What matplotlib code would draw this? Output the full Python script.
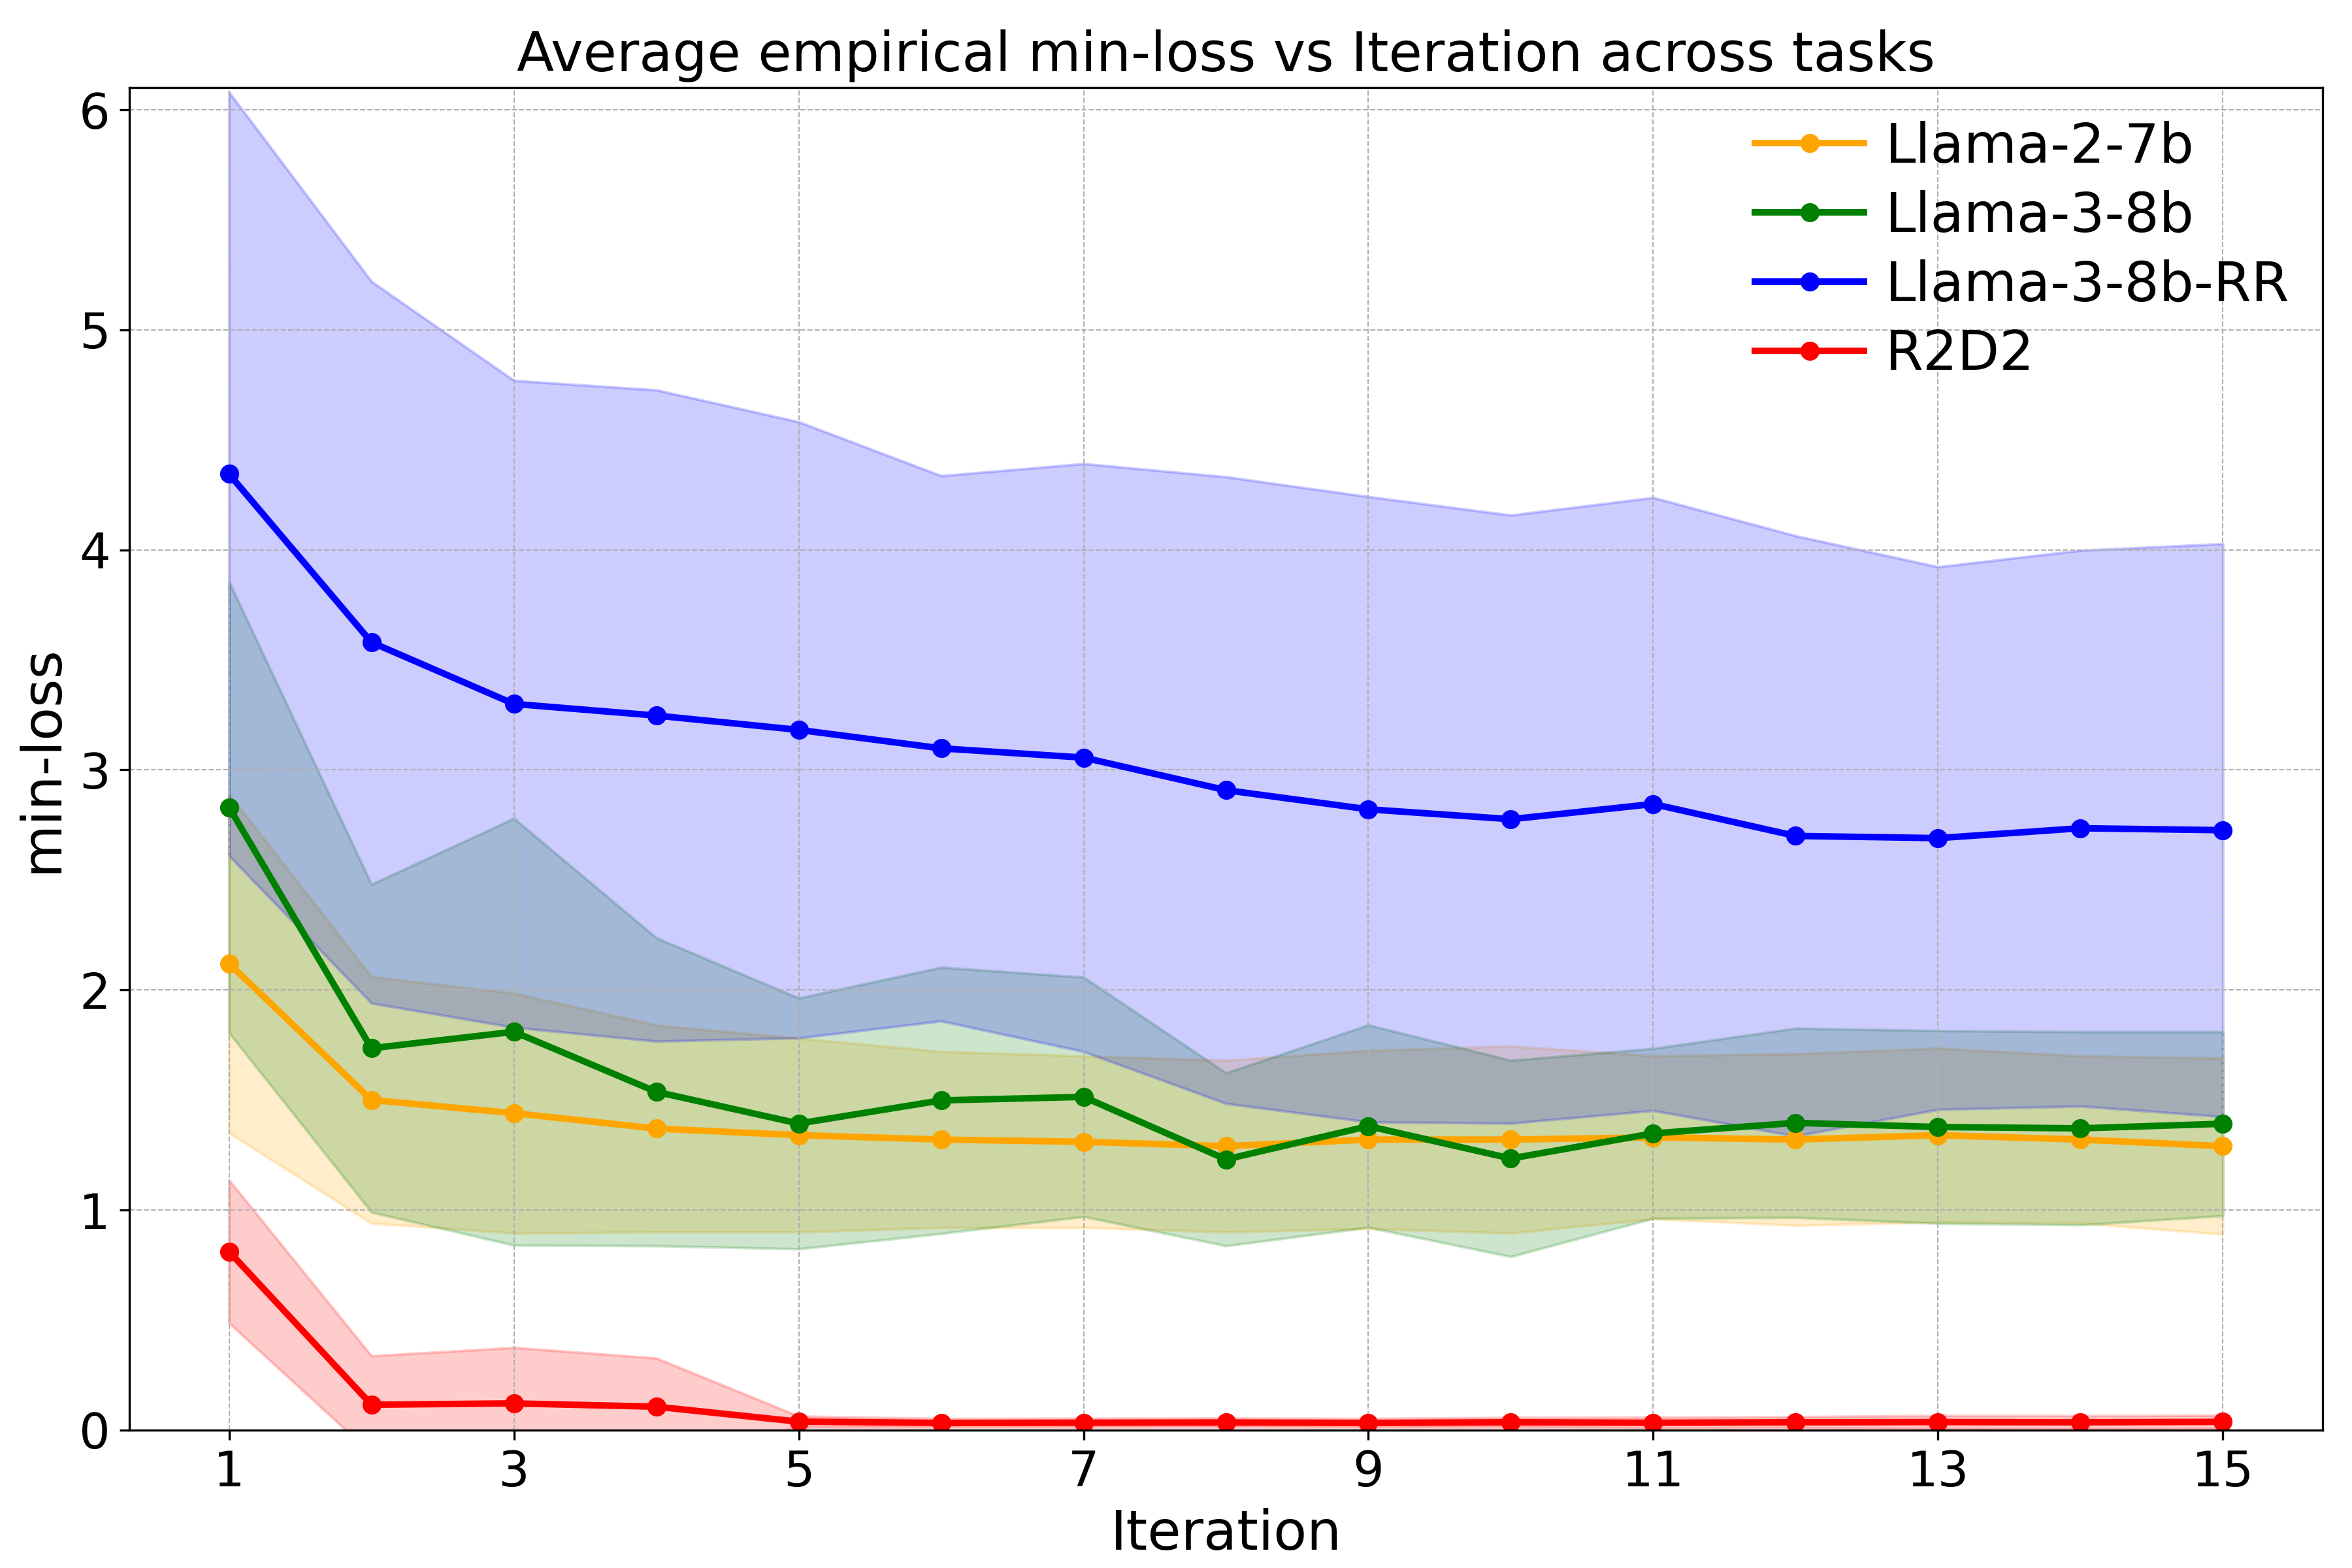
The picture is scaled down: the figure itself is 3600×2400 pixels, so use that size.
import matplotlib
matplotlib.use("Agg")
import matplotlib.pyplot as plt
import numpy as np

iterations = list(range(1, 16))
models = ["Llama-2-7b", "Llama-3-8b", "Llama-3-8b-RR", "R2D2"]
colors = ["orange", "green", "blue", "red"]

llama2_mean = [2.12, 1.50, 1.44, 1.37, 1.34, 1.32, 1.31, 1.29, 1.32, 1.32, 1.33, 1.32, 1.34, 1.32, 1.29]
llama2_std = [0.77, 0.56, 0.545, 0.47, 0.44, 0.40, 0.39, 0.39, 0.405, 0.425, 0.37, 0.39, 0.395, 0.38, 0.40]

llama3_mean = [2.83, 1.735, 1.81, 1.537, 1.393, 1.498, 1.514, 1.23, 1.381, 1.234, 1.348, 1.396, 1.377, 1.371, 1.392]
llama3_std = [1.025, 0.745, 0.97, 0.70, 0.57, 0.605, 0.544, 0.393, 0.46, 0.446, 0.386, 0.43, 0.438, 0.439, 0.418]

llama3rr_mean = [4.345, 3.58, 3.30, 3.247, 3.182, 3.098, 3.056, 2.908, 2.821, 2.776, 2.845, 2.70, 2.69, 2.735, 2.726]
llama3rr_std = [1.735, 1.64, 1.47, 1.48, 1.40, 1.239, 1.336, 1.424, 1.421, 1.382, 1.393, 1.364, 1.233, 1.263, 1.302]

r2d2_mean = [0.811, 0.115, 0.121, 0.106, 0.038, 0.032, 0.033, 0.034, 0.032, 0.035, 0.033, 0.035, 0.036, 0.035, 0.037]
r2d2_std = [0.325, 0.222, 0.254, 0.221, 0.025, 0.02, 0.02, 0.02, 0.02, 0.022, 0.025, 0.025, 0.03, 0.03, 0.03]

means = [llama2_mean, llama3_mean, llama3rr_mean, r2d2_mean]
stds = [llama2_std, llama3_std, llama3rr_std, r2d2_std]

fig, ax = plt.subplots(figsize=(12, 8), dpi=300)
x = np.array(iterations)
for name, c, m, s in zip(models, colors, means, stds):
    m = np.array(m)
    s = np.array(s)
    ax.plot(x, m, marker="o", color=c, linewidth=2.4, markersize=6, label=name)
    ax.fill_between(x, m - s, m + s, color=c, alpha=0.2)

ax.set_ylim(0, 6.1)
ax.set_xticks(list(range(1, 16, 2)))
ax.tick_params(axis="both", labelsize=18)
ax.set_xlabel("Iteration", fontsize=20)
ax.set_ylabel("min-loss", fontsize=20)
ax.set_title("Average empirical min-loss vs Iteration across tasks", fontsize=20)
ax.grid(True, linestyle="--", linewidth=0.5, color="#b0b0b0")
ax.legend(loc="upper right", fontsize=20, frameon=False, labelspacing=0.3,
          handletextpad=0.4, borderaxespad=0.2)

fig.subplots_adjust(left=0.055, right=0.9875, top=0.944, bottom=0.088)
fig.savefig("out.png", dpi=300)
